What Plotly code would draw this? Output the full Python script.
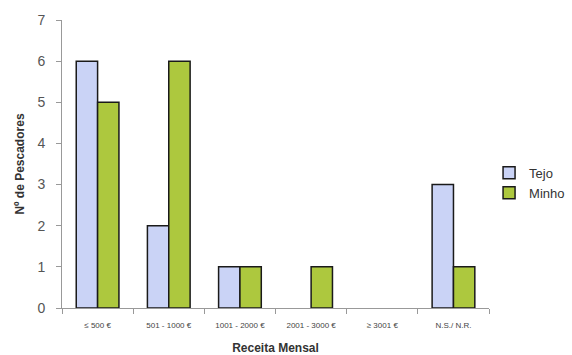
import plotly.graph_objects as go

# Monthly income brackets and number of fishermen per region
categorias = ["≤ 500 €", "501 - 1000 €", "1001 - 2000 €", "2001 - 3000 €", "≥ 3001 €", "N.S./ N.R."]
tejo = [6, 2, 1, None, None, 3]
minho = [5, 6, 1, 1, None, 1]

cor_tejo = "#CAD3F6"
cor_minho = "#ADC83E"
cor_contorno = "#1a1a1a"

fig = go.Figure()
fig.add_trace(go.Bar(name="Tejo", x=categorias, y=tejo,
                     marker=dict(color=cor_tejo, line=dict(color=cor_contorno, width=1.5))))
fig.add_trace(go.Bar(name="Minho", x=categorias, y=minho,
                     marker=dict(color=cor_minho, line=dict(color=cor_contorno, width=1.5))))

fig.update_layout(
    width=572, height=355,
    margin=dict(l=62, r=79, t=20, b=47),
    paper_bgcolor="white", plot_bgcolor="white",
    barmode="group", bargap=0.4, bargroupgap=0,
    font=dict(family="Liberation Sans, Arial, sans-serif", color="#444"),
    showlegend=True,
    legend=dict(xref="container", yref="container", x=0.855, y=0.485,
                xanchor="left", yanchor="middle",
                font=dict(size=13, color="#333"), itemwidth=30,
                tracegroupgap=0, bgcolor="rgba(0,0,0,0)"),
    xaxis=dict(
        automargin=False,
        showline=True, linecolor="#999", linewidth=1,
        ticks="outside", ticklen=5, tickcolor="#999", tickson="boundaries",
        tickfont=dict(size=8, color="#444"), ticklabelstandoff=9,
        title=dict(text="<b>Receita Mensal</b>", font=dict(size=12, color="#333"), standoff=15),
        showgrid=False,
    ),
    yaxis=dict(
        automargin=False,
        range=[0, 7], dtick=1,
        showline=True, linecolor="#999", linewidth=1,
        ticks="outside", ticklen=5, tickcolor="#999",
        tickfont=dict(size=14, color="#555"), ticklabelstandoff=8,
        title=dict(text="<b>Nº de Pescadores</b>", font=dict(size=12, color="#333"), standoff=10),
        showgrid=False, zeroline=False,
    ),
)

fig.write_html("out.html")
